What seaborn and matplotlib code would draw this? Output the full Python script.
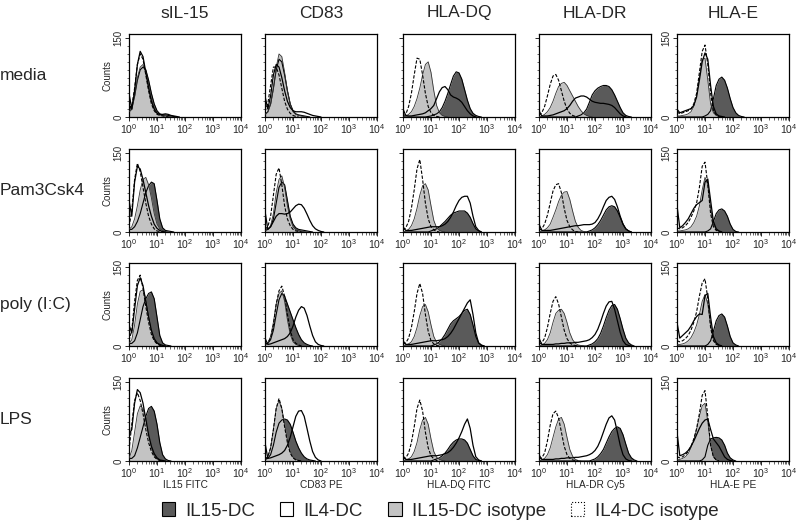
import numpy as np
import pandas as pd
import matplotlib
matplotlib.use('Agg')
import matplotlib.pyplot as plt
import seaborn as sns
from matplotlib.patches import Patch
from matplotlib.ticker import FixedLocator, NullFormatter

# ---- data: counts per 0.1-decade channel, starting at 10^0 ----
STEP = 0.1
ROWS = ['media', 'Pam3Csk4', 'poly (I:C)', 'LPS']
MARKERS = ['sIL-15', 'CD83', 'HLA-DQ', 'HLA-DR', 'HLA-E']
XLABELS = ['IL15 FITC', 'CD83 PE', 'HLA-DQ FITC', 'HLA-DR Cy5', 'HLA-E PE']
SERIES = ['IL15-DC', 'IL4-DC', 'IL15-DC isotype', 'IL4-DC isotype']

# sIL-15
SIL15_IL15DC = [
    [20, 20, 40, 70, 90, 95, 90, 70, 45, 25, 12, 6, 4, 4, 3, 2, 1, 0],
    [5, 5, 10, 20, 35, 55, 75, 88, 95, 92, 60, 25, 8, 3, 2, 1, 0],
    [5, 5, 10, 25, 50, 75, 90, 100, 103, 90, 55, 20, 6, 2, 1, 0],
    [5, 5, 10, 25, 45, 65, 85, 100, 104, 95, 70, 35, 12, 4, 1, 0]]
SIL15_IL4DC = [
    [45, 15, 50, 100, 125, 115, 85, 55, 30, 15, 7, 5, 5, 6, 5, 3, 2, 1, 0],
    [60, 30, 95, 125, 120, 100, 75, 50, 30, 15, 7, 3, 1, 0],
    [40, 25, 70, 115, 130, 115, 85, 55, 30, 14, 6, 3, 1, 0],
    [50, 60, 110, 136, 130, 110, 80, 50, 28, 14, 6, 2, 1, 0]]
SIL15_IL15ISO = [
    [10, 15, 40, 75, 95, 100, 85, 60, 35, 18, 8, 4, 3, 2, 1, 0],
    [5, 10, 25, 50, 80, 100, 104, 90, 65, 35, 15, 6, 3, 1, 0],
    [5, 12, 40, 80, 104, 107, 90, 60, 30, 12, 5, 2, 1, 0],
    [5, 20, 55, 90, 105, 100, 80, 50, 25, 10, 4, 1, 0]]
SIL15_IL4ISO = [
    [15, 20, 55, 100, 120, 110, 80, 50, 25, 12, 5, 3, 2, 1, 0],
    [10, 40, 100, 131, 115, 85, 55, 30, 15, 6, 2, 1, 0],
    [10, 30, 85, 125, 135, 110, 75, 45, 22, 10, 4, 1, 0],
    [20, 70, 115, 130, 115, 90, 60, 35, 18, 8, 3, 1, 0]]

# CD83
CD83_IL15DC = [
    [5, 10, 25, 55, 90, 110, 105, 80, 50, 25, 12, 6, 4, 3, 2, 1, 0],
    [3, 5, 10, 25, 55, 85, 95, 90, 60, 30, 15, 8, 5, 4, 3, 2, 1, 0],
    [3, 5, 12, 30, 60, 88, 100, 95, 80, 65, 50, 35, 22, 12, 6, 3, 1, 0],
    [3, 5, 12, 30, 55, 72, 78, 80, 78, 70, 55, 38, 25, 15, 8, 4, 2, 1, 0]]
CD83_IL4DC = [
    [40, 15, 40, 80, 100, 95, 75, 50, 30, 18, 12, 10, 10, 10, 9, 7, 5, 3, 2, 1, 0],
    [40, 5, 10, 20, 30, 35, 35, 34, 35, 38, 44, 50, 53, 52, 45, 34, 22, 12, 6, 3, 1, 0],
    [15, 3, 4, 6, 8, 10, 12, 14, 18, 25, 38, 55, 68, 75, 72, 58, 38, 20, 8, 3, 1, 0],
    [35, 5, 6, 8, 10, 12, 15, 20, 30, 45, 65, 85, 95, 96, 85, 62, 38, 18, 7, 2, 0]]
CD83_IL15ISO = [
    [5, 10, 25, 55, 95, 120, 115, 85, 50, 25, 10, 5, 3, 2, 1, 0],
    [3, 5, 12, 35, 75, 100, 107, 85, 50, 25, 10, 4, 2, 1, 0],
    [3, 6, 18, 45, 80, 100, 105, 85, 50, 22, 8, 3, 1, 0],
    [3, 8, 25, 60, 100, 115, 100, 70, 40, 18, 7, 3, 1, 0]]
CD83_IL4ISO = [
    [10, 25, 60, 95, 95, 80, 55, 30, 15, 7, 3, 1, 0],
    [5, 10, 30, 70, 110, 122, 90, 50, 25, 12, 5, 2, 1, 0],
    [3, 6, 15, 40, 80, 105, 114, 95, 60, 30, 12, 5, 2, 0],
    [3, 8, 25, 60, 100, 119, 100, 65, 35, 15, 6, 2, 1, 0]]

# HLA-DQ
DQ_IL15DC = [
    [0, 0, 0, 0, 0, 0, 0, 0, 0, 1, 2, 4, 6, 10, 18, 30, 45, 62, 78, 86, 84, 72, 52, 32, 16, 7, 3, 1, 0],
    [0, 0, 0, 0, 0, 0, 0, 0, 0, 0, 2, 4, 6, 10, 15, 20, 26, 32, 36, 38, 40, 40, 40, 36, 28, 16, 6, 2, 0],
    [0, 0, 0, 0, 0, 0, 0, 0, 0, 0, 0, 2, 4, 8, 14, 22, 32, 42, 48, 52, 56, 62, 68, 70, 60, 40, 18, 6, 2, 0],
    [0, 0, 0, 0, 0, 0, 0, 0, 0, 0, 0, 2, 4, 6, 10, 15, 22, 30, 36, 40, 42, 42, 40, 34, 22, 10, 3, 1, 0]]
DQ_IL4DC = [
    [15, 3, 2, 2, 3, 4, 5, 6, 8, 12, 16, 22, 35, 48, 56, 58, 52, 42, 38, 36, 33, 28, 20, 12, 6, 2, 0],
    [10, 3, 3, 3, 4, 5, 6, 7, 8, 9, 10, 10, 10, 10, 12, 15, 20, 28, 38, 50, 60, 66, 68, 68, 55, 30, 10, 3, 0],
    [10, 3, 3, 3, 4, 5, 6, 7, 8, 9, 10, 10, 10, 11, 12, 14, 18, 24, 32, 42, 52, 62, 72, 82, 88, 60, 25, 6, 1, 0],
    [10, 3, 3, 3, 4, 5, 6, 7, 8, 9, 10, 10, 10, 11, 12, 14, 16, 20, 26, 34, 44, 56, 70, 80, 62, 30, 8, 2, 0]]
DQ_IL15ISO = [
    [0, 2, 5, 10, 20, 35, 55, 80, 100, 105, 85, 50, 22, 8, 3, 1, 0],
    [0, 2, 5, 12, 25, 45, 70, 88, 92, 80, 50, 22, 8, 3, 1, 0],
    [0, 2, 4, 8, 18, 35, 58, 75, 79, 65, 40, 18, 7, 3, 1, 0],
    [0, 2, 4, 8, 18, 35, 60, 78, 83, 70, 42, 18, 7, 3, 1, 0]]
DQ_IL4ISO = [
    [2, 5, 20, 45, 80, 112, 110, 80, 45, 20, 8, 3, 1, 0],
    [3, 8, 20, 45, 80, 120, 138, 100, 55, 25, 10, 4, 1, 0],
    [3, 6, 15, 35, 65, 100, 119, 100, 60, 28, 10, 4, 1, 0],
    [3, 6, 15, 35, 65, 100, 116, 95, 55, 25, 10, 4, 1, 0]]

# HLA-DR
DR_IL15DC = [
    [0, 0, 0, 0, 0, 0, 0, 0, 0, 0, 0, 0, 0, 0, 2, 4, 8, 15, 28, 42, 50, 55, 58, 60, 60, 58, 52, 42, 30, 18, 8, 3, 1, 0],
    [0, 0, 0, 0, 0, 0, 0, 0, 0, 0, 0, 0, 0, 0, 0, 0, 0, 0, 2, 4, 8, 14, 22, 32, 42, 48, 50, 48, 40, 28, 15, 6, 2, 0],
    [0, 0, 0, 0, 0, 0, 0, 0, 0, 0, 0, 0, 0, 0, 0, 0, 0, 0, 2, 4, 8, 14, 24, 38, 54, 68, 77, 79, 70, 52, 32, 15, 6, 2, 0],
    [0, 0, 0, 0, 0, 0, 0, 0, 0, 0, 0, 0, 0, 0, 0, 0, 0, 0, 0, 2, 4, 8, 14, 22, 34, 46, 56, 62, 65, 62, 50, 32, 15, 6, 2, 0]]
DR_IL4DC = [
    [12, 2, 2, 2, 3, 4, 6, 8, 10, 12, 16, 22, 30, 36, 38, 40, 40, 38, 34, 30, 28, 27, 26, 26, 25, 24, 22, 18, 12, 6, 2, 0],
    [15, 3, 3, 3, 3, 4, 5, 6, 7, 8, 9, 10, 11, 12, 12, 13, 14, 14, 14, 15, 18, 25, 35, 48, 60, 66, 68, 62, 48, 30, 15, 6, 2, 0],
    [15, 3, 3, 3, 3, 3, 4, 4, 5, 5, 6, 6, 6, 7, 7, 8, 9, 10, 12, 16, 22, 32, 46, 62, 76, 84, 85, 70, 48, 26, 10, 3, 1, 0],
    [12, 3, 3, 3, 3, 3, 4, 4, 5, 5, 6, 6, 6, 7, 7, 8, 9, 10, 12, 15, 20, 28, 40, 55, 70, 82, 86, 78, 55, 30, 12, 4, 1, 0]]
DR_IL15ISO = [
    [0, 2, 5, 10, 18, 30, 45, 58, 64, 66, 60, 50, 40, 30, 20, 12, 6, 3, 1, 0],
    [0, 2, 4, 8, 15, 28, 42, 58, 70, 76, 77, 62, 40, 20, 9, 3, 1, 0],
    [0, 2, 5, 12, 25, 45, 62, 68, 70, 62, 45, 25, 12, 5, 2, 1, 0],
    [0, 2, 5, 12, 25, 45, 65, 80, 83, 70, 45, 22, 9, 3, 1, 0]]
DR_IL4ISO = [
    [3, 8, 20, 40, 62, 78, 81, 70, 50, 30, 15, 7, 3, 1, 0],
    [3, 6, 15, 32, 55, 78, 90, 92, 75, 45, 22, 10, 4, 1, 0],
    [3, 6, 15, 35, 62, 85, 94, 80, 55, 30, 14, 6, 2, 1, 0],
    [3, 6, 15, 38, 68, 90, 95, 82, 55, 28, 12, 5, 2, 1, 0]]

# HLA-E
E_IL15DC = [
    [0, 0, 0, 0, 0, 0, 0, 0, 0, 0, 2, 5, 12, 35, 60, 72, 76, 70, 55, 35, 18, 8, 3, 1, 0],
    [0, 0, 0, 0, 0, 0, 0, 0, 0, 0, 0, 2, 6, 20, 35, 42, 44, 40, 30, 15, 5, 1, 0],
    [0, 0, 0, 0, 0, 0, 0, 0, 0, 0, 0, 3, 10, 28, 48, 58, 61, 55, 38, 18, 6, 2, 0],
    [0, 0, 0, 0, 0, 0, 0, 0, 0, 2, 8, 30, 42, 44, 45, 44, 40, 30, 15, 6, 2, 0]]
E_IL4DC = [
    [15, 8, 10, 12, 14, 16, 22, 38, 70, 105, 122, 110, 60, 20, 6, 2, 1, 0],
    [50, 8, 12, 18, 25, 35, 45, 52, 56, 60, 95, 101, 60, 20, 6, 2, 0],
    [45, 15, 20, 25, 30, 38, 48, 56, 61, 60, 96, 100, 55, 18, 6, 2, 0],
    [55, 10, 12, 15, 20, 28, 38, 50, 62, 72, 78, 80, 60, 42, 35, 28, 18, 8, 3, 1, 0]]
E_IL15ISO = [
    [2, 2, 3, 4, 6, 10, 20, 40, 75, 110, 112, 70, 25, 8, 3, 1, 0],
    [2, 2, 3, 4, 6, 10, 18, 30, 50, 80, 104, 90, 45, 15, 5, 1, 0],
    [2, 3, 4, 6, 10, 16, 26, 40, 60, 85, 98, 80, 40, 12, 4, 1, 0],
    [2, 3, 5, 8, 14, 25, 40, 60, 85, 105, 110, 75, 30, 8, 2, 0]]
E_IL4ISO = [
    [10, 6, 8, 10, 12, 15, 25, 45, 85, 125, 137, 100, 45, 12, 4, 1, 0],
    [8, 6, 8, 12, 18, 28, 40, 55, 85, 125, 133, 90, 35, 10, 3, 1, 0],
    [10, 8, 10, 14, 20, 30, 45, 65, 95, 120, 128, 90, 35, 10, 3, 1, 0],
    [8, 6, 8, 12, 18, 28, 42, 62, 90, 125, 134, 85, 30, 8, 2, 0]]

PANEL_DATA = {
    'sIL-15': [SIL15_IL15DC, SIL15_IL4DC, SIL15_IL15ISO, SIL15_IL4ISO],
    'CD83': [CD83_IL15DC, CD83_IL4DC, CD83_IL15ISO, CD83_IL4ISO],
    'HLA-DQ': [DQ_IL15DC, DQ_IL4DC, DQ_IL15ISO, DQ_IL4ISO],
    'HLA-DR': [DR_IL15DC, DR_IL4DC, DR_IL15ISO, DR_IL4ISO],
    'HLA-E': [E_IL15DC, E_IL4DC, E_IL15ISO, E_IL4ISO],
}

# long-form table
records = []
for marker, series_lists in PANEL_DATA.items():
    for sname, per_row in zip(SERIES, series_lists):
        for rname, vals in zip(ROWS, per_row):
            for i, v in enumerate(vals):
                records.append((marker, rname, sname, 10 ** (i * STEP), v))
df = pd.DataFrame(records, columns=['marker', 'row', 'series', 'fluor', 'counts'])

# ---- style ----
sns.set_style('ticks')
plt.rcParams['font.family'] = ['Liberation Sans', 'DejaVu Sans']
plt.rcParams['mathtext.default'] = 'regular'
plt.rcParams['axes.linewidth'] = 0.9

DARK = '#5a5a5a'
LIGHT = '#c3c3c3'

fig = plt.figure(figsize=(8, 5.28), dpi=100)
W, H = 800, 528
lefts = [129, 265, 403, 539, 677]
tops = [34, 149, 263, 378]
pw, ph = 112, 83

for c, marker in enumerate(MARKERS):
    for r, rname in enumerate(ROWS):
        ax = fig.add_axes([lefts[c] / W, 1 - (tops[r] + ph) / H, pw / W, ph / H])
        sub = df[(df.marker == marker) & (df.row == rname)]
        d15 = sub[sub.series == 'IL15-DC']
        d4 = sub[sub.series == 'IL4-DC']
        i15 = sub[sub.series == 'IL15-DC isotype']
        i4 = sub[sub.series == 'IL4-DC isotype']

        ax.fill_between(d15.fluor, d15.counts, color=DARK, lw=0, zorder=1)
        ax.fill_between(i15.fluor, i15.counts, color=LIGHT, lw=0, zorder=2)
        sns.lineplot(data=d15, x='fluor', y='counts', ax=ax, color='black', lw=0.8, zorder=3)
        sns.lineplot(data=i15, x='fluor', y='counts', ax=ax, color='#333333', lw=0.6, zorder=3)
        sns.lineplot(data=d4, x='fluor', y='counts', ax=ax, color='black', lw=0.9, zorder=4)
        sns.lineplot(data=i4, x='fluor', y='counts', ax=ax, color='black', lw=0.8,
                     linestyle=(0, (3, 1.5)), zorder=4)

        ax.set_xscale('log')
        ax.set_xlim(1, 1e4)
        ax.set_ylim(0, 158)
        ax.set_xticks([1, 10, 100, 1000, 10000])
        ax.set_xticklabels([r'$10^{%d}$' % k for k in range(5)], fontsize=7.5)
        ax.xaxis.set_minor_locator(FixedLocator(
            [m * 10 ** k for k in range(4) for m in range(2, 10)]))
        ax.xaxis.set_minor_formatter(NullFormatter())
        ax.set_yticks([0, 150])
        ax.yaxis.set_minor_locator(FixedLocator(list(range(15, 150, 15))))
        if c in (0, 4):
            ax.set_yticklabels(['0', '150'], rotation=90, va='center', fontsize=7)
        else:
            ax.set_yticklabels([])
        ax.tick_params(axis='both', which='major', direction='out', length=3, width=0.7, pad=1)
        ax.tick_params(axis='both', which='minor', direction='out', length=1.8, width=0.5)
        ax.set_xlabel(XLABELS[c] if r == 3 else '', fontsize=7.3, labelpad=0)
        ax.set_ylabel('Counts' if c == 0 else '', fontsize=7, labelpad=1)
        for s in ax.spines.values():
            s.set_visible(True)
            s.set_color('black')

# column titles and row labels
for c, marker in enumerate(MARKERS):
    fig.text((lefts[c] + pw / 2) / W, 1 - 13 / H, marker, ha='center', va='center', fontsize=12.5)
for r, rname in enumerate(ROWS):
    fig.text(0.0, 1 - (tops[r] + ph / 2) / H, rname, ha='left', va='center', fontsize=12.5)

handles = [Patch(facecolor=DARK, edgecolor='black', lw=0.8),
           Patch(facecolor='white', edgecolor='black', lw=0.8),
           Patch(facecolor=LIGHT, edgecolor='black', lw=0.8),
           Patch(facecolor='white', edgecolor='black', lw=0.8, linestyle=':')]
fig.legend(handles, SERIES, loc='center', bbox_to_anchor=(440 / W, 1 - 511 / H), ncol=4,
           frameon=False, fontsize=13.5, handlelength=0.7, handleheight=0.7,
           handletextpad=0.55, columnspacing=1.35, borderaxespad=0)

fig.savefig('out.png', dpi=100)
